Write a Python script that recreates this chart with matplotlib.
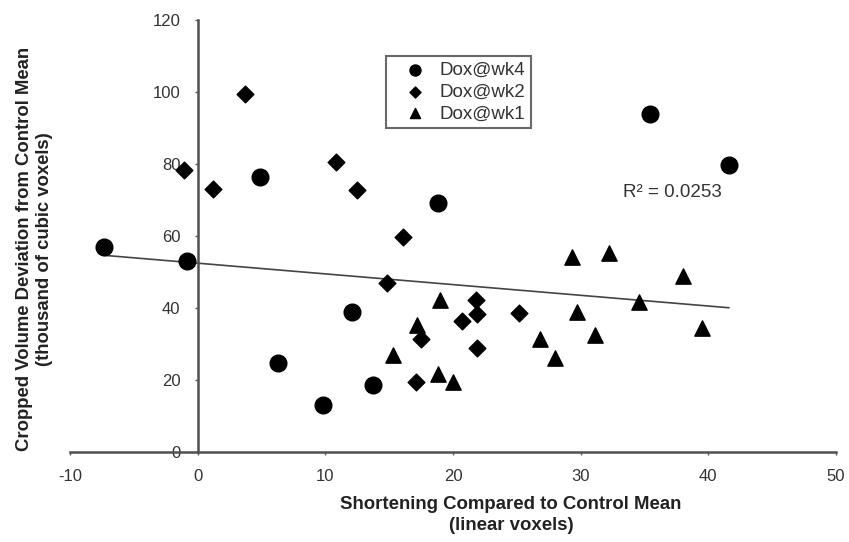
import numpy as np
import matplotlib
matplotlib.use("Agg")
import matplotlib.pyplot as plt

plt.rcParams['font.family'] = ['Liberation Sans', 'DejaVu Sans']
plt.rcParams['axes.unicode_minus'] = False

# Dox@wk4 (circles)
wk4_x = [-7.3, -0.8, 4.9, 6.3, 9.8, 12.1, 13.7, 18.8, 35.4, 41.6]
wk4_y = [57.0, 53.0, 76.4, 24.7, 13.0, 38.9, 18.6, 69.2, 93.9, 79.7]
# Dox@wk2 (diamonds)
wk2_x = [-1.1, 1.2, 3.7, 10.8, 12.5, 16.1, 14.8, 17.5, 17.1, 20.7, 21.8, 21.9, 21.9, 25.2]
wk2_y = [78.3, 73.0, 99.4, 80.5, 72.8, 59.8, 46.9, 31.3, 19.5, 36.5, 42.2, 38.3, 28.8, 38.7]
# Dox@wk1 (triangles)
wk1_x = [17.2, 15.3, 19.0, 18.8, 20.0, 29.3, 32.2, 38.0, 34.6, 29.7, 26.8, 31.1, 28.0, 39.5]
wk1_y = [35.3, 27.0, 42.2, 21.7, 19.5, 54.3, 55.2, 48.9, 41.7, 38.8, 31.4, 32.4, 26.2, 34.5]

labels = ["Dox@wk4", "Dox@wk2", "Dox@wk1"]
r2_text = "R² = 0.0253"
x_ticks = [-10, 0, 10, 20, 30, 40, 50]
y_ticks = [0, 20, 40, 60, 80, 100, 120]

fig = plt.figure(figsize=(8.49, 5.42), dpi=100)
ax = fig.add_axes([70/849, 1-452/542, (836-70)/849, (452-20)/542])

ax.scatter(wk4_x, wk4_y, marker='o', s=12**2, color='black', label=labels[0], zorder=3)
ax.scatter(wk2_x, wk2_y, marker='D', s=8.5**2, color='black', label=labels[1], zorder=3)
ax.scatter(wk1_x, wk1_y, marker='^', s=11**2, color='black', label=labels[2], zorder=3)

# linear trendline over all points
all_x = np.array(wk4_x + wk2_x + wk1_x)
all_y = np.array(wk4_y + wk2_y + wk1_y)
m, b = np.polyfit(all_x, all_y, 1)
xs = np.array([all_x.min(), all_x.max()])
ax.plot(xs, m*xs + b, color='#444444', lw=1.2, zorder=2)

ax.text(37.2, 72.0, r2_text, fontsize=13.5, color='#333333', ha='center', va='center')

ax.set_xlim(-10, 50)
ax.set_ylim(0, 120)
ax.set_xticks(x_ticks)
ax.set_yticks(y_ticks)
ax.spines['left'].set_position(('data', 0))
for s in ['top', 'right']:
    ax.spines[s].set_visible(False)
for s in ['left', 'bottom']:
    ax.spines[s].set_color('#505050')
    ax.spines[s].set_linewidth(1.8)
ax.tick_params(axis='both', length=2, width=1, color='#555555',
               labelsize=12, labelcolor='#333333')
ax.tick_params(axis='x', pad=10)
ax.tick_params(axis='y', pad=10.5)

fig.text(511/849, 1-515/542, "Shortening Compared to Control Mean\n(linear voxels)",
         fontsize=13.4, fontweight='bold', color='#222222', linespacing=1.28,
         ha='center', va='center', multialignment='center')
fig.text(34.5/849, 1-249/542, "Cropped Volume Deviation from Control Mean\n(thousand of cubic voxels)",
         fontsize=13.3, fontweight='bold', color='#222222', linespacing=1.25,
         ha='center', va='center', rotation=90, multialignment='center')

leg = ax.legend(loc='upper left', bbox_to_anchor=((386-70)/766, (452-56)/432),
                frameon=True, fancybox=False, markerscale=0.66, fontsize=13.5,
                handletextpad=0.05, borderpad=0.3, labelspacing=0.25,
                handlelength=2.5, borderaxespad=0)
leg.get_frame().set_edgecolor('#444444')
leg.get_frame().set_linewidth(1.5)
for t in leg.get_texts():
    t.set_color('#333333')

fig.savefig("out.png", dpi=100)
